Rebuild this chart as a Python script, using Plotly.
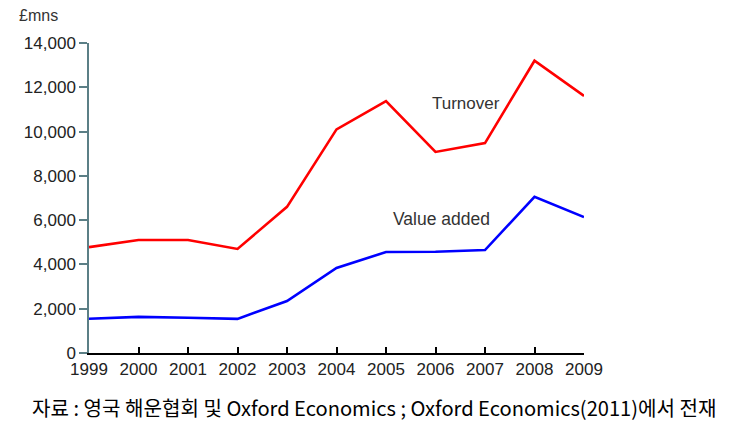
import plotly.graph_objects as go

years = [1999, 2000, 2001, 2002, 2003, 2004, 2005, 2006, 2007, 2008, 2009]
turnover = [4780, 5100, 5100, 4700, 6600, 10100, 11380, 9080, 9480, 13200, 11610]
value_added = [1550, 1630, 1590, 1540, 2350, 3840, 4560, 4570, 4650, 7050, 6140]
y_ticks = [0, 2000, 4000, 6000, 8000, 10000, 12000, 14000]
y_tick_labels = ["0", "2,000", "4,000", "6,000", "8,000", "10,000", "12,000", "14,000"]

fig = go.Figure()
fig.add_trace(go.Scatter(x=years, y=turnover, mode="lines", name="Turnover",
                         line=dict(color="#ff0000", width=2.6)))
fig.add_trace(go.Scatter(x=years, y=value_added, mode="lines", name="Value added",
                         line=dict(color="#0000ff", width=2.6)))

font_main = "Liberation Sans, Arial, sans-serif"

fig.update_layout(
    width=742, height=426,
    margin=dict(l=81, r=166, t=35, b=81),
    paper_bgcolor="white", plot_bgcolor="white",
    showlegend=False,
    font=dict(family=font_main, size=17, color="#333333"),
    xaxis=dict(range=[1999, 2009], tickvals=years, ticktext=[str(y) for y in years],
               showgrid=False, zeroline=False, showline=True, linecolor="#000000", linewidth=1.5,
               ticks="inside", ticklen=6, tickcolor="#000000", tickwidth=1.5,
               tickfont=dict(size=17, color="#222222")),
    yaxis=dict(range=[0, 14000], tickvals=y_ticks, ticktext=y_tick_labels,
               showgrid=False, zeroline=False, showline=True, linecolor="#5b7f86", linewidth=1.5,
               ticks="outside", ticklen=8, tickcolor="#5b7f86", tickwidth=1.5,
               tickfont=dict(size=17, color="#222222")),
    annotations=[
        dict(text="£mns", xref="paper", yref="paper", x=-0.145, y=1.09, xanchor="left", yanchor="middle",
             showarrow=False, font=dict(size=16, color="#333333", family=font_main)),
        dict(text="Turnover", xref="x", yref="y", x=2006.62, y=11290, showarrow=False,
             font=dict(size=17, color="#333333", family=font_main)),
        dict(text="Value added", xref="x", yref="y", x=2006.12, y=6050, showarrow=False,
             font=dict(size=17.5, color="#333333", family=font_main)),
        dict(text="자료 : 영국 해운협회 및 Oxford Economics ; Oxford Economics(2011)에서 전재",
             xref="paper", yref="paper", x=-0.119, y=-0.177, xanchor="left", yanchor="middle",
             showarrow=False,
             font=dict(size=20.1, color="#000000", family="Noto Sans CJK KR")),
    ],
)

fig.write_html("out.html")
